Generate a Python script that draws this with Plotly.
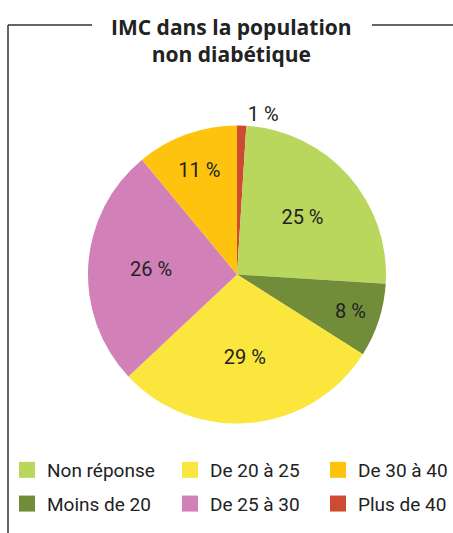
import plotly.graph_objects as go

# Slice order clockwise from 12 o'clock
labels = ["Plus de 40", "Non réponse", "Moins de 20", "De 20 à 25", "De 25 à 30", "De 30 à 40"]
values = [1, 25, 8, 29, 26, 11]
colors = ["#CD4B33", "#B8D75C", "#728D3A", "#FBE63D", "#D280B8", "#FDC30F"]
text_positions = ["outside", "inside", "inside", "inside", "inside", "inside"]

# Legend layout (columns)
legend_columns = [
    ["Non réponse", "Moins de 20"],
    ["De 20 à 25", "De 25 à 30"],
    ["De 30 à 40", "Plus de 40"],
]

title_text = "IMC dans la population<br>non diabétique"
FONT = "Roboto, sans-serif"
TITLE_FONT = "'Open Sans', sans-serif"

color_of = dict(zip(labels, colors))

fig = go.Figure()
fig.add_trace(go.Pie(
    labels=labels,
    values=values,
    marker=dict(colors=colors, line=dict(width=0)),
    sort=False,
    direction="clockwise",
    rotation=0,
    texttemplate="%{value} %",
    textposition=text_positions,
    insidetextorientation="horizontal",
    textfont=dict(family=FONT, size=20, color="#222222"),
    outsidetextfont=dict(family=FONT, size=20, color="#222222"),
    showlegend=False,
    hoverinfo="label+percent",
    domain=dict(x=[88 / 453, 386 / 453], y=[0.19, 0.78]),
))

legend_ids = ["legend", "legend2", "legend3"]
for lid, col in zip(legend_ids, legend_columns):
    for name in col:
        fig.add_trace(go.Scatter(
            x=[None], y=[None], mode="markers", name=name,
            marker=dict(symbol="square", size=16, color=color_of[name]),
            legend=lid, legendgroup=name, showlegend=True, hoverinfo="skip",
        ))

legend_common = dict(
    orientation="v", yanchor="top", y=1 - 451 / 533, xanchor="left",
    font=dict(family=FONT, size=19, color="#222222"),
    bgcolor="rgba(0,0,0,0)", tracegroupgap=6, itemsizing="trace",
    itemclick=False, itemdoubleclick=False,
)

fig.update_layout(
    width=453, height=533,
    margin=dict(l=0, r=0, t=0, b=0),
    paper_bgcolor="white", plot_bgcolor="white",
    xaxis=dict(visible=False), yaxis=dict(visible=False),
    legend=dict(x=7 / 453, **legend_common),
    legend2=dict(x=170 / 453, **legend_common),
    legend3=dict(x=318 / 453, **legend_common),
    annotations=[dict(
        text=title_text, x=232 / 453, y=1 - 11 / 533, xref="paper", yref="paper",
        xanchor="center", yanchor="top", showarrow=False,
        font=dict(family=TITLE_FONT, size=21, color="#222222", weight="bold"),
    )],
    shapes=[
        dict(type="line", xref="paper", yref="paper", x0=8 / 453, x1=92 / 453,
             y0=1 - 25 / 533, y1=1 - 25 / 533, line=dict(color="#333333", width=1.5)),
        dict(type="line", xref="paper", yref="paper", x0=372 / 453, x1=1,
             y0=1 - 25 / 533, y1=1 - 25 / 533, line=dict(color="#333333", width=1.5)),
        dict(type="line", xref="paper", yref="paper", x0=8 / 453, x1=8 / 453,
             y0=1 - 25 / 533, y1=0, line=dict(color="#333333", width=1.5)),
    ],
)

fig.write_html("out.html", config={"displayModeBar": False},
               post_script="document.body.style.margin='0';")
